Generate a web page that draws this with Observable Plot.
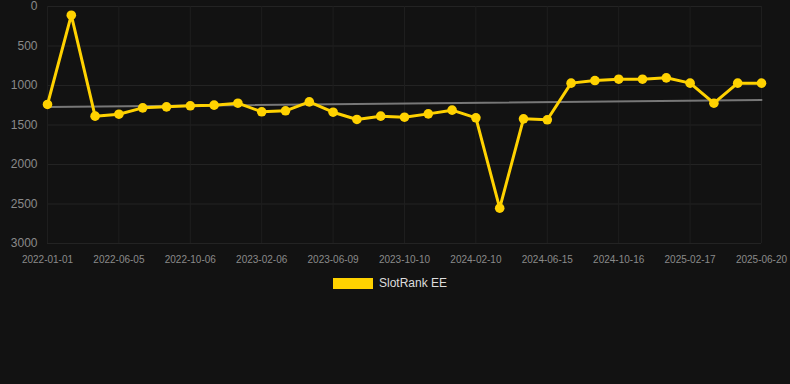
<!DOCTYPE html>
<html>
<head>
<meta charset="utf-8">
<script src="https://cdn.jsdelivr.net/npm/d3@7"></script>
<script src="https://cdn.jsdelivr.net/npm/@observablehq/plot@0.6"></script>
<style>
  html, body { margin: 0; padding: 0; background: #121212; }
  body { width: 790px; height: 384px; overflow: hidden; font-family: "Liberation Sans", Arial, sans-serif; }
  #legend { position: relative; height: 30px; }
  #legend .sw { position: absolute; left: 333px; top: 13px; width: 40px; height: 11px; background: #ffd200; }
  #legend .lb { position: absolute; left: 379px; top: 11px; font-size: 12px; color: #dddddd; line-height: 14px; }
</style>
</head>
<body>
<div id="chart"></div>
<div id="legend"><div class="sw"></div><div class="lb">SlotRank EE</div></div>
<script>
const dates = ["2022-01-01","2022-02-22","2022-04-14","2022-06-05","2022-07-16","2022-08-26","2022-10-06","2022-11-16","2022-12-27","2023-02-06","2023-03-19","2023-04-29","2023-06-09","2023-07-20","2023-08-30","2023-10-10","2023-11-20","2023-12-31","2024-02-10","2024-03-22","2024-05-04","2024-06-15","2024-07-26","2024-09-05","2024-10-16","2024-11-26","2025-01-07","2025-02-17","2025-03-30","2025-05-10","2025-06-20"];
const ranks = [1240,110,1388,1363,1283,1270,1257,1249,1224,1333,1320,1207,1338,1430,1388,1401,1359,1312,1409,2553,1422,1434,970,937,920,920,903,970,1224,970,970];
const xTickIdx = [0,3,6,9,12,15,18,21,24,27,30];
const yTicks = [0,500,1000,1500,2000,2500,3000];
const seriesName = "SlotRank EE";

const data = ranks.map((v, i) => ({i, date: dates[i], rank: v}));

const chart = Plot.plot({
  width: 790,
  height: 265,
  marginTop: 6,
  marginBottom: 22,
  marginLeft: 47,
  marginRight: 29,
  style: {background: "#121212", color: "#8a8a8a", fontFamily: "Liberation Sans, Arial, sans-serif"},
  x: {type: "linear", domain: [0, 30]},
  y: {domain: [0, 3000], reverse: true},
  marks: [
    Plot.gridY(yTicks, {stroke: "#232323", strokeOpacity: 1}),
    Plot.gridX(xTickIdx, {stroke: "#1e1e1e", strokeOpacity: 1}),
    Plot.axisY(yTicks, {tickSize: 0, tickPadding: 10, fontSize: 12, fill: "#8a8a8a", label: null, tickFormat: d => String(d)}),
    Plot.axisX(xTickIdx, {tickSize: 0, tickPadding: 12, fontSize: 10, fill: "#8a8a8a", label: null, tickFormat: i => dates[i]}),
    Plot.linearRegressionY(data, {x: "i", y: "rank", ci: 0, stroke: "#777777", strokeWidth: 2}),
    Plot.line(data, {x: "i", y: "rank", stroke: "#ffd200", strokeWidth: 3}),
    Plot.dot(data, {x: "i", y: "rank", r: 4.8, fill: "#ffd200", stroke: "none"})
  ]
});
document.getElementById("chart").append(chart);
</script>
</body>
</html>
